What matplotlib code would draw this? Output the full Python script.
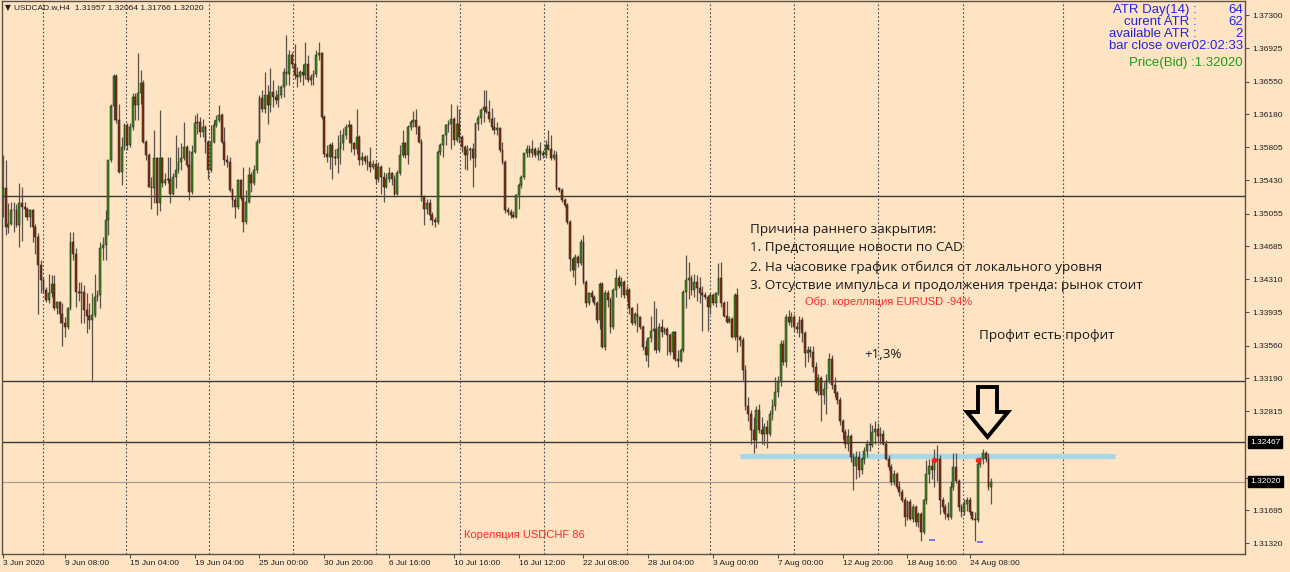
import matplotlib
matplotlib.use("Agg")
import numpy as np
import matplotlib.pyplot as plt
import matplotlib.transforms as mtransforms
from matplotlib.patches import Polygon

plt.rcParams['font.family'] = ['Liberation Sans', 'DejaVu Sans']

# USDCAD H4 candles, 3 Jun 2020 .. 25 Aug 2020
opens = [
    1.3525, 1.3534, 1.3490, 1.3494, 1.3509, 1.3510, 1.3492, 1.3517, 1.3513, 1.3511,
    1.3502, 1.3509, 1.3490, 1.3479, 1.3447, 1.3430, 1.3419, 1.3408, 1.3415, 1.3426,
    1.3398, 1.3405, 1.3392, 1.3381, 1.3377, 1.3398, 1.3473, 1.3460, 1.3417, 1.3415,
    1.3417, 1.3396, 1.3390, 1.3385, 1.3391, 1.3411, 1.3413, 1.3466, 1.3470, 1.3498,
    1.3566, 1.3627, 1.3661, 1.3611, 1.3553, 1.3581, 1.3606, 1.3583, 1.3604, 1.3638,
    1.3628, 1.3642, 1.3653, 1.3587, 1.3572, 1.3536, 1.3534, 1.3568, 1.3517, 1.3568,
    1.3540, 1.3543, 1.3545, 1.3528, 1.3547, 1.3555, 1.3564, 1.3568, 1.3581, 1.3560,
    1.3530, 1.3575, 1.3608, 1.3609, 1.3598, 1.3604, 1.3587, 1.3555, 1.3587, 1.3606,
    1.3611, 1.3617, 1.3587, 1.3566, 1.3564, 1.3532, 1.3521, 1.3513, 1.3543, 1.3523,
    1.3496, 1.3519, 1.3549, 1.3540, 1.3555, 1.3587, 1.3636, 1.3624, 1.3640, 1.3628,
    1.3643, 1.3638, 1.3634, 1.3640, 1.3649, 1.3666, 1.3664, 1.3685, 1.3675, 1.3662,
    1.3660, 1.3666, 1.3662, 1.3675, 1.3657, 1.3660, 1.3664, 1.3685, 1.3687, 1.3615,
    1.3573, 1.3570, 1.3583, 1.3570, 1.3568, 1.3579, 1.3585, 1.3594, 1.3604, 1.3606,
    1.3585, 1.3579, 1.3592, 1.3566, 1.3569, 1.3565, 1.3564, 1.3558, 1.3562, 1.3545,
    1.3558, 1.3547, 1.3536, 1.3545, 1.3551, 1.3545, 1.3528, 1.3551, 1.3572, 1.3585,
    1.3572, 1.3604, 1.3609, 1.3611, 1.3604, 1.3587, 1.3524, 1.3511, 1.3517, 1.3504,
    1.3498, 1.3496, 1.3575, 1.3583, 1.3594, 1.3606, 1.3607, 1.3613, 1.3589, 1.3607,
    1.3592, 1.3581, 1.3572, 1.3577, 1.3579, 1.3568, 1.3607, 1.3614, 1.3623, 1.3626,
    1.3621, 1.3613, 1.3604, 1.3600, 1.3602, 1.3577, 1.3564, 1.3509, 1.3507, 1.3504,
    1.3502, 1.3526, 1.3538, 1.3547, 1.3574, 1.3579, 1.3574, 1.3579, 1.3572, 1.3576,
    1.3574, 1.3572, 1.3583, 1.3579, 1.3568, 1.3572, 1.3534, 1.3532, 1.3521, 1.3515,
    1.3496, 1.3454, 1.3441, 1.3456, 1.3449, 1.3473, 1.3428, 1.3404, 1.3415, 1.3411,
    1.3404, 1.3385, 1.3426, 1.3354, 1.3415, 1.3408, 1.3377, 1.3419, 1.3432, 1.3423,
    1.3428, 1.3413, 1.3419, 1.3398, 1.3381, 1.3392, 1.3388, 1.3377, 1.3354, 1.3345,
    1.3364, 1.3373, 1.3375, 1.3351, 1.3377, 1.3371, 1.3375, 1.3368, 1.3349, 1.3371,
    1.3341, 1.3339, 1.3351, 1.3417, 1.3430, 1.3432, 1.3419, 1.3428, 1.3421, 1.3415,
    1.3413, 1.3411, 1.3400, 1.3413, 1.3404, 1.3415, 1.3432, 1.3404, 1.3390, 1.3383,
    1.3386, 1.3366, 1.3413, 1.3366, 1.3362, 1.3328, 1.3287, 1.3279, 1.3260, 1.3249,
    1.3283, 1.3260, 1.3256, 1.3264, 1.3256, 1.3279, 1.3287, 1.3303, 1.3315, 1.3358,
    1.3337, 1.3388, 1.3383, 1.3388, 1.3377, 1.3375, 1.3385, 1.3370, 1.3347, 1.3351,
    1.3349, 1.3332, 1.3305, 1.3319, 1.3300, 1.3307, 1.3317, 1.3341, 1.3311, 1.3302,
    1.3294, 1.3270, 1.3258, 1.3245, 1.3253, 1.3230, 1.3220, 1.3230, 1.3215, 1.3228,
    1.3237, 1.3245, 1.3243, 1.3258, 1.3262, 1.3253, 1.3256, 1.3245, 1.3228, 1.3218,
    1.3201, 1.3211, 1.3196, 1.3190, 1.3181, 1.3162, 1.3179, 1.3160, 1.3173, 1.3156,
    1.3165, 1.3145, 1.3181, 1.3211, 1.3220, 1.3215, 1.3226, 1.3228, 1.3181, 1.3173,
    1.3165, 1.3162, 1.3196, 1.3218, 1.3203, 1.3173, 1.3167, 1.3177, 1.3181, 1.3167,
    1.3160, 1.3158, 1.3222, 1.3228, 1.3234, 1.3228, 1.31957,
]
highs = [
    1.3572, 1.3566, 1.3517, 1.3519, 1.3519, 1.3516, 1.3540, 1.3536, 1.3519, 1.3513,
    1.3511, 1.3511, 1.3494, 1.3483, 1.3453, 1.3434, 1.3422, 1.3437, 1.3436, 1.3436,
    1.3407, 1.3407, 1.3404, 1.3388, 1.3400, 1.3485, 1.3485, 1.3466, 1.3428, 1.3428,
    1.3424, 1.3415, 1.3404, 1.3415, 1.3437, 1.3419, 1.3473, 1.3479, 1.3509, 1.3566,
    1.3630, 1.3664, 1.3664, 1.3630, 1.3592, 1.3608, 1.3608, 1.3608, 1.3642, 1.3642,
    1.3687, 1.3668, 1.3657, 1.3589, 1.3574, 1.3547, 1.3600, 1.3570, 1.3623, 1.3570,
    1.3551, 1.3570, 1.3570, 1.3551, 1.3594, 1.3581, 1.3585, 1.3609, 1.3583, 1.3577,
    1.3583, 1.3617, 1.3619, 1.3615, 1.3613, 1.3606, 1.3589, 1.3606, 1.3611, 1.3617,
    1.3628, 1.3619, 1.3604, 1.3572, 1.3570, 1.3534, 1.3524, 1.3545, 1.3545, 1.3558,
    1.3532, 1.3558, 1.3553, 1.3560, 1.3590, 1.3640, 1.3645, 1.3666, 1.3651, 1.3670,
    1.3657, 1.3645, 1.3651, 1.3651, 1.3670, 1.3708, 1.3691, 1.3688, 1.3698, 1.3672,
    1.3668, 1.3675, 1.3700, 1.3685, 1.3664, 1.3668, 1.3691, 1.3700, 1.3689, 1.3617,
    1.3583, 1.3585, 1.3587, 1.3579, 1.3594, 1.3600, 1.3602, 1.3607, 1.3611, 1.3607,
    1.3587, 1.3624, 1.3594, 1.3575, 1.3572, 1.3572, 1.3581, 1.3566, 1.3564, 1.3564,
    1.3560, 1.3553, 1.3551, 1.3558, 1.3553, 1.3549, 1.3555, 1.3583, 1.3600, 1.3587,
    1.3606, 1.3611, 1.3622, 1.3624, 1.3606, 1.3590, 1.3526, 1.3522, 1.3522, 1.3507,
    1.3502, 1.3577, 1.3585, 1.3596, 1.3607, 1.3611, 1.3630, 1.3615, 1.3628, 1.3624,
    1.3594, 1.3583, 1.3583, 1.3581, 1.3585, 1.3609, 1.3617, 1.3625, 1.3645, 1.3645,
    1.3634, 1.3625, 1.3615, 1.3609, 1.3604, 1.3587, 1.3566, 1.3513, 1.3511, 1.3508,
    1.3528, 1.3540, 1.3549, 1.3574, 1.3583, 1.3583, 1.3589, 1.3581, 1.3581, 1.3587,
    1.3577, 1.3589, 1.3600, 1.3594, 1.3577, 1.3576, 1.3536, 1.3534, 1.3523, 1.3517,
    1.3498, 1.3456, 1.3460, 1.3458, 1.3477, 1.3481, 1.3430, 1.3417, 1.3419, 1.3413,
    1.3406, 1.3428, 1.3428, 1.3419, 1.3419, 1.3411, 1.3421, 1.3443, 1.3436, 1.3434,
    1.3430, 1.3423, 1.3421, 1.3400, 1.3394, 1.3404, 1.3390, 1.3379, 1.3362, 1.3366,
    1.3390, 1.3407, 1.3398, 1.3381, 1.3386, 1.3377, 1.3377, 1.3370, 1.3373, 1.3373,
    1.3351, 1.3353, 1.3419, 1.3458, 1.3451, 1.3436, 1.3437, 1.3436, 1.3434, 1.3423,
    1.3417, 1.3413, 1.3415, 1.3415, 1.3417, 1.3449, 1.3451, 1.3406, 1.3406, 1.3390,
    1.3388, 1.3415, 1.3421, 1.3368, 1.3366, 1.3334, 1.3298, 1.3283, 1.3275, 1.3287,
    1.3290, 1.3275, 1.3268, 1.3272, 1.3283, 1.3295, 1.3320, 1.3322, 1.3362, 1.3362,
    1.3392, 1.3396, 1.3394, 1.3392, 1.3383, 1.3390, 1.3388, 1.3373, 1.3356, 1.3355,
    1.3356, 1.3337, 1.3324, 1.3322, 1.3315, 1.3324, 1.3347, 1.3345, 1.3320, 1.3305,
    1.3298, 1.3273, 1.3262, 1.3262, 1.3256, 1.3234, 1.3236, 1.3236, 1.3230, 1.3241,
    1.3249, 1.3268, 1.3266, 1.3270, 1.3268, 1.3264, 1.3260, 1.3249, 1.3232, 1.3222,
    1.3215, 1.3213, 1.3203, 1.3194, 1.3184, 1.3181, 1.3182, 1.3177, 1.3175, 1.3167,
    1.3167, 1.3182, 1.3226, 1.3228, 1.3226, 1.3239, 1.3243, 1.3232, 1.3184, 1.3177,
    1.3179, 1.3203, 1.3234, 1.3234, 1.3205, 1.3177, 1.3182, 1.3184, 1.3184, 1.3169,
    1.3167, 1.3224, 1.3230, 1.3239, 1.3236, 1.3234, 1.32064,
]
lows = [
    1.3502, 1.3481, 1.3483, 1.3492, 1.3485, 1.3490, 1.3468, 1.3474, 1.3502, 1.3498,
    1.3490, 1.3473, 1.3460, 1.3392, 1.3415, 1.3415, 1.3405, 1.3404, 1.3411, 1.3396,
    1.3392, 1.3381, 1.3356, 1.3366, 1.3375, 1.3396, 1.3453, 1.3400, 1.3407, 1.3381,
    1.3381, 1.3370, 1.3375, 1.3315, 1.3388, 1.3407, 1.3398, 1.3453, 1.3453, 1.3481,
    1.3564, 1.3611, 1.3608, 1.3551, 1.3538, 1.3577, 1.3577, 1.3581, 1.3600, 1.3611,
    1.3611, 1.3630, 1.3585, 1.3566, 1.3536, 1.3511, 1.3517, 1.3504, 1.3508, 1.3536,
    1.3538, 1.3540, 1.3517, 1.3526, 1.3534, 1.3551, 1.3555, 1.3566, 1.3558, 1.3521,
    1.3528, 1.3574, 1.3596, 1.3592, 1.3592, 1.3574, 1.3545, 1.3553, 1.3585, 1.3604,
    1.3609, 1.3585, 1.3560, 1.3558, 1.3530, 1.3513, 1.3500, 1.3511, 1.3521, 1.3485,
    1.3494, 1.3517, 1.3530, 1.3538, 1.3551, 1.3585, 1.3621, 1.3619, 1.3607, 1.3621,
    1.3626, 1.3630, 1.3626, 1.3636, 1.3638, 1.3651, 1.3651, 1.3670, 1.3658, 1.3649,
    1.3655, 1.3651, 1.3658, 1.3655, 1.3651, 1.3651, 1.3660, 1.3679, 1.3613, 1.3570,
    1.3564, 1.3556, 1.3545, 1.3560, 1.3551, 1.3562, 1.3577, 1.3590, 1.3585, 1.3575,
    1.3572, 1.3573, 1.3560, 1.3560, 1.3562, 1.3555, 1.3553, 1.3556, 1.3539, 1.3541,
    1.3528, 1.3519, 1.3534, 1.3541, 1.3538, 1.3524, 1.3526, 1.3549, 1.3570, 1.3568,
    1.3562, 1.3600, 1.3604, 1.3596, 1.3585, 1.3520, 1.3492, 1.3505, 1.3498, 1.3492,
    1.3490, 1.3494, 1.3572, 1.3570, 1.3583, 1.3598, 1.3579, 1.3583, 1.3587, 1.3585,
    1.3575, 1.3556, 1.3555, 1.3566, 1.3536, 1.3558, 1.3600, 1.3607, 1.3609, 1.3619,
    1.3609, 1.3600, 1.3596, 1.3594, 1.3575, 1.3562, 1.3506, 1.3504, 1.3500, 1.3500,
    1.3500, 1.3511, 1.3534, 1.3545, 1.3570, 1.3570, 1.3570, 1.3570, 1.3566, 1.3566,
    1.3568, 1.3568, 1.3577, 1.3566, 1.3566, 1.3532, 1.3530, 1.3519, 1.3513, 1.3494,
    1.3440, 1.3434, 1.3425, 1.3445, 1.3447, 1.3426, 1.3400, 1.3402, 1.3406, 1.3402,
    1.3381, 1.3375, 1.3353, 1.3351, 1.3400, 1.3370, 1.3375, 1.3411, 1.3421, 1.3411,
    1.3410, 1.3409, 1.3392, 1.3379, 1.3379, 1.3371, 1.3375, 1.3351, 1.3339, 1.3332,
    1.3360, 1.3351, 1.3347, 1.3349, 1.3366, 1.3369, 1.3345, 1.3345, 1.3341, 1.3339,
    1.3332, 1.3337, 1.3349, 1.3398, 1.3409, 1.3413, 1.3411, 1.3406, 1.3404, 1.3373,
    1.3409, 1.3373, 1.3392, 1.3402, 1.3400, 1.3413, 1.3400, 1.3388, 1.3381, 1.3381,
    1.3364, 1.3362, 1.3349, 1.3355, 1.3317, 1.3283, 1.3270, 1.3245, 1.3234, 1.3240,
    1.3257, 1.3245, 1.3243, 1.3240, 1.3253, 1.3272, 1.3283, 1.3298, 1.3310, 1.3334,
    1.3332, 1.3379, 1.3377, 1.3373, 1.3370, 1.3366, 1.3360, 1.3332, 1.3337, 1.3343,
    1.3326, 1.3302, 1.3300, 1.3271, 1.3290, 1.3279, 1.3313, 1.3307, 1.3298, 1.3290,
    1.3266, 1.3250, 1.3240, 1.3237, 1.3224, 1.3192, 1.3205, 1.3207, 1.3211, 1.3222,
    1.3230, 1.3237, 1.3241, 1.3245, 1.3247, 1.3245, 1.3243, 1.3226, 1.3215, 1.3198,
    1.3198, 1.3194, 1.3186, 1.3179, 1.3152, 1.3158, 1.3158, 1.3156, 1.3152, 1.3150,
    1.3135, 1.3143, 1.3177, 1.3200, 1.3205, 1.3196, 1.3203, 1.3165, 1.3167, 1.3160,
    1.3158, 1.3160, 1.3192, 1.3200, 1.3169, 1.3162, 1.3164, 1.3169, 1.3164, 1.3158,
    1.3135, 1.3156, 1.3218, 1.3222, 1.3224, 1.3192, 1.31766,
]
closes = [
    1.3534, 1.3490, 1.3494, 1.3509, 1.3510, 1.3492, 1.3517, 1.3513, 1.3511, 1.3502,
    1.3509, 1.3490, 1.3479, 1.3447, 1.3430, 1.3419, 1.3408, 1.3415, 1.3426, 1.3398,
    1.3405, 1.3392, 1.3381, 1.3377, 1.3398, 1.3473, 1.3460, 1.3417, 1.3415, 1.3417,
    1.3396, 1.3390, 1.3385, 1.3391, 1.3411, 1.3413, 1.3466, 1.3470, 1.3498, 1.3566,
    1.3627, 1.3661, 1.3611, 1.3553, 1.3581, 1.3606, 1.3583, 1.3604, 1.3638, 1.3628,
    1.3642, 1.3653, 1.3587, 1.3572, 1.3536, 1.3534, 1.3568, 1.3517, 1.3568, 1.3540,
    1.3543, 1.3545, 1.3528, 1.3547, 1.3555, 1.3564, 1.3568, 1.3581, 1.3560, 1.3530,
    1.3575, 1.3608, 1.3609, 1.3598, 1.3604, 1.3587, 1.3555, 1.3587, 1.3606, 1.3611,
    1.3617, 1.3587, 1.3566, 1.3564, 1.3532, 1.3521, 1.3513, 1.3543, 1.3523, 1.3496,
    1.3519, 1.3549, 1.3540, 1.3555, 1.3587, 1.3636, 1.3624, 1.3640, 1.3628, 1.3643,
    1.3638, 1.3634, 1.3640, 1.3649, 1.3666, 1.3664, 1.3685, 1.3675, 1.3662, 1.3660,
    1.3666, 1.3662, 1.3675, 1.3657, 1.3660, 1.3664, 1.3685, 1.3687, 1.3615, 1.3573,
    1.3570, 1.3583, 1.3570, 1.3568, 1.3579, 1.3585, 1.3594, 1.3604, 1.3606, 1.3585,
    1.3579, 1.3592, 1.3566, 1.3569, 1.3565, 1.3564, 1.3558, 1.3562, 1.3545, 1.3558,
    1.3547, 1.3536, 1.3545, 1.3551, 1.3545, 1.3528, 1.3551, 1.3572, 1.3585, 1.3572,
    1.3604, 1.3609, 1.3611, 1.3604, 1.3587, 1.3524, 1.3511, 1.3517, 1.3504, 1.3498,
    1.3496, 1.3575, 1.3583, 1.3594, 1.3606, 1.3607, 1.3613, 1.3589, 1.3607, 1.3592,
    1.3581, 1.3572, 1.3577, 1.3579, 1.3568, 1.3607, 1.3614, 1.3623, 1.3626, 1.3621,
    1.3613, 1.3604, 1.3600, 1.3602, 1.3577, 1.3564, 1.3509, 1.3507, 1.3504, 1.3502,
    1.3526, 1.3538, 1.3547, 1.3574, 1.3579, 1.3574, 1.3579, 1.3572, 1.3576, 1.3574,
    1.3572, 1.3583, 1.3579, 1.3568, 1.3572, 1.3534, 1.3532, 1.3521, 1.3515, 1.3496,
    1.3454, 1.3441, 1.3456, 1.3449, 1.3473, 1.3428, 1.3404, 1.3415, 1.3411, 1.3404,
    1.3385, 1.3426, 1.3354, 1.3415, 1.3408, 1.3377, 1.3419, 1.3432, 1.3423, 1.3428,
    1.3413, 1.3419, 1.3398, 1.3381, 1.3392, 1.3388, 1.3377, 1.3354, 1.3345, 1.3364,
    1.3373, 1.3375, 1.3351, 1.3377, 1.3371, 1.3375, 1.3368, 1.3349, 1.3371, 1.3341,
    1.3339, 1.3351, 1.3417, 1.3430, 1.3432, 1.3419, 1.3428, 1.3421, 1.3415, 1.3413,
    1.3411, 1.3400, 1.3413, 1.3404, 1.3415, 1.3432, 1.3404, 1.3390, 1.3383, 1.3386,
    1.3366, 1.3413, 1.3366, 1.3362, 1.3328, 1.3287, 1.3279, 1.3260, 1.3249, 1.3283,
    1.3260, 1.3256, 1.3264, 1.3256, 1.3279, 1.3287, 1.3303, 1.3315, 1.3358, 1.3337,
    1.3388, 1.3383, 1.3388, 1.3377, 1.3375, 1.3385, 1.3370, 1.3347, 1.3351, 1.3349,
    1.3332, 1.3305, 1.3319, 1.3300, 1.3307, 1.3317, 1.3341, 1.3311, 1.3302, 1.3294,
    1.3270, 1.3258, 1.3245, 1.3253, 1.3230, 1.3220, 1.3230, 1.3215, 1.3228, 1.3237,
    1.3245, 1.3243, 1.3258, 1.3262, 1.3253, 1.3256, 1.3245, 1.3228, 1.3218, 1.3201,
    1.3211, 1.3196, 1.3190, 1.3181, 1.3162, 1.3179, 1.3160, 1.3173, 1.3156, 1.3165,
    1.3145, 1.3181, 1.3211, 1.3220, 1.3215, 1.3226, 1.3228, 1.3181, 1.3173, 1.3165,
    1.3162, 1.3196, 1.3218, 1.3203, 1.3173, 1.3167, 1.3177, 1.3181, 1.3167, 1.3160,
    1.3158, 1.3222, 1.3228, 1.3234, 1.3228, 1.31957, 1.32020,
]

# horizontal levels drawn on the chart
level_lines = [1.35253, 1.33157, 1.32467]
bid_price = 1.32020
support_level = 1.32307
support_bars = [273, 412]

# indicator marks near the end
entry_bars = [345, 361]
entry_prices = [1.3226, 1.3226]
low_mark_bars = [344, 362]
low_mark_prices = [1.3136, 1.3134]

# axes
time_ticks = [0, 23, 47, 71, 95, 119, 143, 167, 191, 215, 239, 263, 287, 311, 335, 358]
time_labels = ["3 Jun 2020", "9 Jun 08:00", "15 Jun 04:00", "19 Jun 04:00", "25 Jun 00:00",
               "30 Jun 20:00", "6 Jul 16:00", "10 Jul 16:00", "16 Jul 12:00", "22 Jul 08:00",
               "28 Jul 04:00", "3 Aug 00:00", "7 Aug 00:00", "12 Aug 20:00", "18 Aug 16:00",
               "24 Aug 08:00"]
price_ticks = [1.37300, 1.36925, 1.36550, 1.36180, 1.35805, 1.35430, 1.35055, 1.34685,
               1.34310, 1.33935, 1.33560, 1.33190, 1.32815, 1.32065, 1.31695, 1.31320]
grid_bars = [14.7, 45.6, 76.4, 107.4, 138.3, 169.3, 200.2, 231.1, 262.0, 293.0, 323.9, 355.7, 392.7]

assert len(opens) == len(highs) == len(lows) == len(closes)

W, H = 1290, 572
BG = '#ffe4c4'
fig = plt.figure(figsize=(W / 100, H / 100), dpi=100, facecolor=BG)
ax = fig.add_axes([2 / W, (H - 554) / H, (1245 - 2) / W, (554 - 1) / H])
ax.set_facecolor(BG)

# grid
for g in grid_bars:
    ax.axvline(g, color='#4a4a4a', lw=0.8, ls=(0, (1.5, 2)), zorder=1)

for lv in level_lines:
    ax.axhline(lv, color='#3a3a3a', lw=1.0, zorder=2)
ax.axhline(bid_price, color='#a8a096', lw=0.9, zorder=2)
ax.plot(support_bars, [support_level, support_level], color='#a6d8e6', lw=3.8,
        solid_capstyle='butt', zorder=2)

# candles
o = np.array(opens)
h = np.array(highs)
l = np.array(lows)
c = np.array(closes)
x = np.arange(len(c))
up = c >= o
ax.vlines(x, l, h, color='#5a524a', lw=0.9, zorder=3)
body = np.where(np.abs(c - o) < 0.00004, 0.00004, np.abs(c - o))
bottom = np.minimum(o, c)
ax.bar(x[up], body[up], bottom=bottom[up], width=0.72, color='#3f8c18',
       edgecolor='#1e1e1e', linewidth=0.35, zorder=4)
ax.bar(x[~up], body[~up], bottom=bottom[~up], width=0.72, color='#8a2e10',
       edgecolor='#1e1e1e', linewidth=0.35, zorder=4)

ax.plot(entry_bars, entry_prices, 'o', color='#ff2020', ms=3, zorder=5)
ax.plot(low_mark_bars, low_mark_prices, '_', color='#6060ff', ms=5, mew=1.2, zorder=5)

ax.set_xlim(-0.37, 460)
ax.set_ylim(1.31199, 1.37462)

for s in ax.spines.values():
    s.set_color('#5a5047')
    s.set_linewidth(1.0)

# the 1.32065 label sits under the bid box, so only its tick is kept
ax.yaxis.tick_right()
ax.set_yticks(price_ticks)
ax.set_yticklabels(["" if p == 1.32065 else f"{p:.5f}" for p in price_ticks])
ax.tick_params(axis='y', direction='out', length=3, width=0.8, colors='#5a5047',
               labelcolor='#202020', labelsize=6, pad=2)
ax.set_xticks(time_ticks)
ax.set_xticklabels(time_labels)
for lab in ax.get_xticklabels():
    lab.set_horizontalalignment('left')
ax.tick_params(axis='x', direction='out', length=3, width=0.8, colors='#5a5047',
               labelcolor='#202020', labelsize=6, pad=1.5)

# price boxes on the right axis
trans = mtransforms.blended_transform_factory(ax.transAxes, ax.transData)
for lv in [level_lines[2], bid_price]:
    ax.text(1 + 5 / 1243, lv, f"{lv:.5f}", transform=trans, ha='left', va='center',
            color='white', fontsize=6, zorder=10, clip_on=False,
            bbox=dict(boxstyle='square,pad=0.25', fc='black', ec='black'))


def ptext(xp, yp, s, **kw):
    kw.setdefault('va', 'center')
    fig.text(xp / W, 1 - yp / H, s, **kw)


# header
ptext(5, 8, "▼", fontsize=5.5, color='#202020', family=['DejaVu Sans'])
ptext(14, 8, "USDCAD.w,H4  1.31957 1.32064 1.31766 1.32020", fontsize=6, color='#202020')

# info panel
blue = '#2424e0'
ptext(1197, 10, "ATR Day(14) :", ha='right', fontsize=9.5, color=blue)
ptext(1243, 10, "64", ha='right', fontsize=9.5, color=blue)
ptext(1197, 22, "curent ATR :", ha='right', fontsize=9.5, color=blue)
ptext(1243, 22, "62", ha='right', fontsize=9.5, color=blue)
ptext(1197, 34, "available ATR :", ha='right', fontsize=9.5, color=blue)
ptext(1243, 34, "2", ha='right', fontsize=9.5, color=blue)
ptext(1243, 46, "bar close over02:02:33", ha='right', fontsize=9.5, color=blue)
ptext(1243, 63, "Price(Bid) :1.32020", ha='right', fontsize=9.5, color='#1a9a1a')

# notes
note = dict(fontsize=9.7, color='#1a1a1a', family=['Open Sans', 'DejaVu Sans'])
ptext(750, 230, "Причина раннего закрытия:", **note)
ptext(750, 248, "1. Предстоящие новости по CAD", **note)
ptext(750, 267, "2. На часовике график отбился от локального уровня", **note)
ptext(750, 286, "3. Отсуствие импульса и продолжения тренда: рынок стоит", **note)
ptext(864, 354, "+1,3%", **note)
ptext(979, 336, "Профит есть профит", **note)
ptext(805, 302, "Обр. корелляция EURUSD -94%", fontsize=8, color='#ff2a2a')
ptext(464, 535, "Кореляция USDCHF 86", fontsize=8, color='#ff2a2a')

# hollow down arrow
arrow_px = [(978, 387), (997, 387), (997, 412), (1008, 412), (987.5, 437),
            (967, 412), (978, 412)]
arrow = Polygon([(px / W, 1 - py / H) for px, py in arrow_px], closed=True,
                transform=fig.transFigure, fill=False, edgecolor='black', lw=2.8,
                joinstyle='miter', zorder=20)
fig.add_artist(arrow)

fig.savefig("out.png", dpi=100, facecolor=BG)
